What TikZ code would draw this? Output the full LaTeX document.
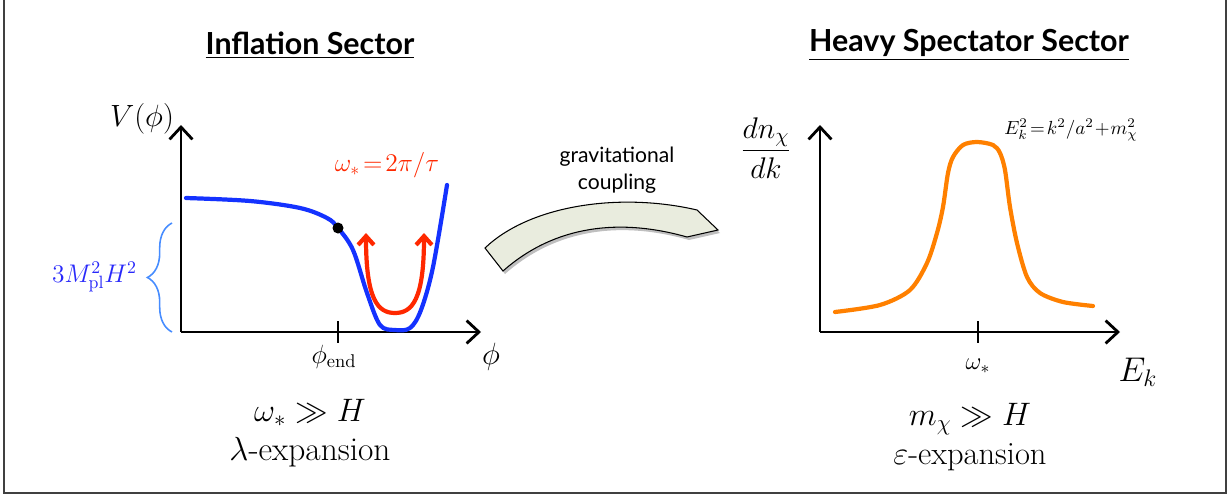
\RequirePackage{fix-cm}
\documentclass[tikz,border=0pt]{standalone}
\usepackage{fontspec}
\newfontfamily\headfont{Lato}
\usetikzlibrary{arrows.meta,decorations.pathreplacing}

\definecolor{potblue}{RGB}{20,50,255}
\definecolor{labblue}{RGB}{40,40,250}
\definecolor{braceblue}{RGB}{70,140,255}
\definecolor{osc}{RGB}{255,40,0}
\definecolor{spec}{RGB}{255,128,0}
\definecolor{band}{RGB}{233,236,222}

\begin{document}
\begin{tikzpicture}[
        x=0.02cm, y=-0.02cm,
        titulo/.style={font=\headfont\bfseries\fontsize{17.3}{20}\selectfont},
        eje/.style={line width=1.6pt, -{Straight Barb[length=7pt,width=13pt]}},
        marca/.style={line width=1.6pt},
        curva/.style={line width=2.4pt, line cap=round},
        texto/.style={font=\fontsize{18.5}{22}\selectfont, align=center},
        etiq/.style={font=\fontsize{14.5}{17}\selectfont, inner sep=1pt}
    ]
        \useasboundingbox (0,0) rectangle (1232,497);
        \draw[line width=1pt, black!75] (4,-5) rectangle (1226,493);

        % titles
        \node[titulo] (tinf) at (310,45) {\underline{Inflation Sector}};
        \node[titulo] (tspec) at (969,45) {\underline{Heavy Spectator Sector}};

        % inflation sector
        \coordinate (o1) at (181,332);
        \coordinate (y1) at (181,125);
        \coordinate (x1) at (481,332);
        \draw[eje] (o1) -- (y1);
        \draw[eje] (o1) -- (x1);
        \draw[marca] (338,321) -- (338,343);
        \node[etiq, font=\fontsize{17.5}{20}\selectfont] (vlab) at (142,119) {$V(\phi)$};
        \node[etiq, font=\fontsize{15}{17}\selectfont] (phiend) at (334,357) {$\phi_{\mathrm{end}}$};
        \node[etiq, font=\fontsize{17.5}{20}\selectfont] (philab) at (491,357) {$\phi$};

        \draw[curva, potblue] plot[smooth, tension=0.55] coordinates {
            (186,198) (250,201) (300,208) (327,218) (338,228) (353,250)
            (367,293) (380,325) (395,330) (410,328) (421,310) (433,267) (447,185)};
        \draw[curva, osc, line cap=butt, {Straight Barb[length=5pt,width=9pt]}-{Straight Barb[length=5pt,width=9pt]}]
            (366,233) .. controls (366,300) and (378,313) .. (395,313)
            .. controls (412,313) and (424,300) .. (424,233);
        \fill (338,228) circle (5.5);
        \node[etiq, text=osc] (wlab) at (387,165) {$\omega_*\!=\!2\pi/\tau$};

        \draw[braceblue, line width=0.9pt, decorate, decoration={brace, amplitude=14pt}]
            (172,332) -- (172,223);
        \node[etiq, text=labblue, anchor=east] (hlab) at (139,277) {$3M_{\mathrm{pl}}^2H^2$};

        \node[texto] (linf) at (310,433) {$\omega_*\gg H$\\{\fontsize{19}{22}\selectfont$\lambda$-expansion}};

        % coupling
        \node[font=\headfont\fontsize{12}{15}\selectfont, align=center] (acop) at (617,170) {gravitational\\coupling};
        \fill[black!25, shift={(2,3)}]
            (485,248) .. controls (530,205) and (620,192) .. (697,210) -- (718,230) -- (687,237)
            .. controls (620,218) and (555,225) .. (503,271) -- cycle;
        \draw[fill=band, line width=0.6pt]
            (485,248) .. controls (530,205) and (620,192) .. (697,210) -- (718,230) -- (687,237)
            .. controls (620,218) and (555,225) .. (503,271) -- cycle;

        % spectator sector
        \coordinate (o2) at (820,332);
        \coordinate (y2) at (820,125);
        \coordinate (x2) at (1120,332);
        \draw[eje] (o2) -- (y2);
        \draw[eje] (o2) -- (x2);
        \draw[marca] (978,321) -- (978,343);
        \node[etiq, font=\fontsize{17}{20}\selectfont] (nlab) at (766,148) {$\displaystyle\frac{dn_\chi}{dk}$};
        \node[etiq, font=\fontsize{14}{16}\selectfont] (wstar) at (978,366) {$\omega_*$};
        \node[etiq, font=\fontsize{19.5}{22}\selectfont] (eklab) at (1138,372) {$E_k$};
        \node[etiq, font=\fontsize{10.8}{13}\selectfont] (disp) at (1071,130) {$E_k^2\!=\!k^2/a^2\!+\!m_\chi^2$};

        \draw[curva, spec] plot[smooth, tension=0.5] coordinates {
            (835,312) (880,305) (910,290) (927,263) (937,233) (943,207) (948,173)
            (953,157) (963,145) (977,142) (993,145) (1000,153) (1005,170) (1010,207)
            (1017,243) (1027,277) (1040,293) (1063,302) (1093,306)};

        \node[texto] (lspec) at (970,437) {$m_\chi\gg H$\\$\varepsilon$-expansion};
    \end{tikzpicture}
\end{document}
